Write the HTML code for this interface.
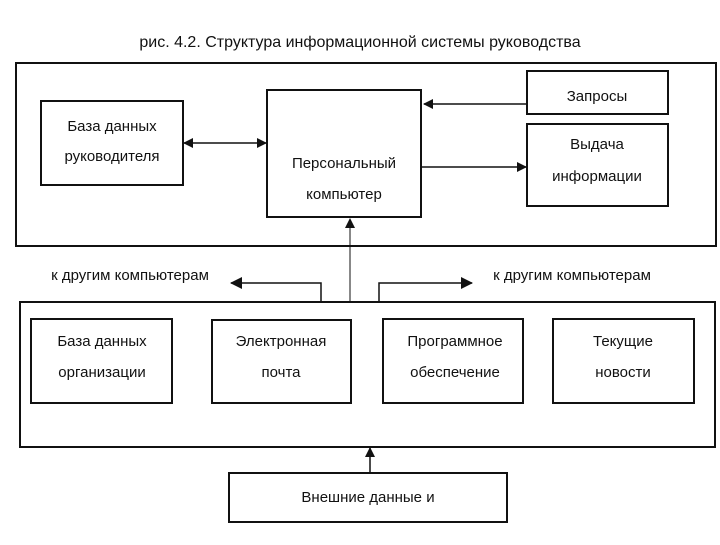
<!DOCTYPE html>
<html><head><meta charset="utf-8"><style>
body{margin:0;background:#fff}
svg text{font-family:"Liberation Sans","DejaVu Sans",sans-serif;fill:#111}
</style></head><body>
<svg width="720" height="540" viewBox="0 0 720 540" xmlns="http://www.w3.org/2000/svg">
<defs><marker id="a" markerWidth="10" markerHeight="10" refX="9" refY="5" orient="auto-start-reverse" markerUnits="userSpaceOnUse"><path d="M0,0 L10,5 L0,10 z" fill="#111"/></marker>
<marker id="b" markerWidth="12" markerHeight="12" refX="11" refY="6" orient="auto" markerUnits="userSpaceOnUse"><path d="M0,0 L12,6 L0,12 z" fill="#111"/></marker></defs>
<text x="360" y="47" font-size="16" text-anchor="middle">рис. 4.2. Структура информационной системы руководства</text>
<g fill="none" stroke="#111" stroke-width="2">
<rect x="16" y="63" width="700" height="183"/>
<rect x="41" y="101" width="142" height="84"/>
<rect x="267" y="90" width="154" height="127"/>
<rect x="527" y="71" width="141" height="43"/>
<rect x="527" y="124" width="141" height="82"/>
<rect x="20" y="302" width="695" height="145"/>
<rect x="31" y="319" width="141" height="84"/>
<rect x="212" y="320" width="139" height="83"/>
<rect x="383" y="319" width="140" height="84"/>
<rect x="553" y="319" width="141" height="84"/>
<rect x="229" y="473" width="278" height="49"/>
<line x1="184" y1="143" x2="266" y2="143" marker-end="url(#a)" marker-start="url(#a)" stroke-width="1.5"/>
<line x1="527" y1="104" x2="424" y2="104" marker-end="url(#a)" stroke-width="1.5"/>
<line x1="421" y1="167" x2="526" y2="167" marker-end="url(#a)" stroke-width="1.5"/>
<line x1="350" y1="302" x2="350" y2="219" marker-end="url(#a)" stroke-width="1"/>
<polyline points="321,302 321,283 231,283" marker-end="url(#b)" stroke-width="1.5"/>
<polyline points="379,302 379,283 472,283" marker-end="url(#b)" stroke-width="1.5"/>
<line x1="370" y1="473" x2="370" y2="448" marker-end="url(#a)" stroke-width="1.5"/>
</g>
<g font-size="15" text-anchor="middle">
<text x="112" y="131">База данных</text><text x="112" y="161">руководителя</text>
<text x="344" y="168">Персональный</text><text x="344" y="199">компьютер</text>
<text x="597" y="101">Запросы</text>
<text x="597" y="149">Выдача</text><text x="597" y="181">информации</text>
<text x="130" y="280">к другим компьютерам</text>
<text x="572" y="280">к другим компьютерам</text>
<text x="102" y="346">База данных</text><text x="102" y="377">организации</text>
<text x="281" y="346">Электронная</text><text x="281" y="377">почта</text>
<text x="455" y="346">Программное</text><text x="455" y="377">обеспечение</text>
<text x="623" y="346">Текущие</text><text x="623" y="377">новости</text>
<text x="368" y="502">Внешние данные и</text>
</g>
</svg>
</body></html>
